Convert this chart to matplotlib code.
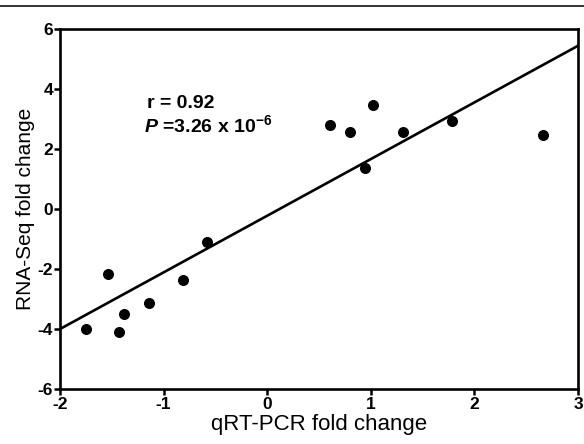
import matplotlib
matplotlib.use('Agg')
import matplotlib.pyplot as plt
from matplotlib.lines import Line2D
import numpy as np

plt.rcParams['font.family'] = 'Liberation Sans'
plt.rcParams['mathtext.fontset'] = 'custom'
plt.rcParams['mathtext.rm'] = 'Liberation Sans:bold'
plt.rcParams['mathtext.bf'] = 'Liberation Sans:bold'
plt.rcParams['mathtext.it'] = 'Liberation Sans:bold:italic'

# Datos
qpcr = [-1.75, -1.54, -1.43, -1.38, -1.14, -0.81, -0.58,
        0.61, 0.80, 0.94, 1.02, 1.31, 1.78, 2.66]
rnaseq = [-4.00, -2.17, -4.09, -3.51, -3.12, -2.38, -1.09,
          2.80, 2.59, 1.38, 3.46, 2.57, 2.93, 2.48]

# Recta de regresion
slope = 1.89
intercept = -0.22
x_ticks = [-2, -1, 0, 1, 2, 3]
y_ticks = [-6, -4, -2, 0, 2, 4, 6]

fig = plt.figure(figsize=(5.84, 4.44), dpi=100)
ax = fig.add_axes([0.1027, 0.1239, 0.8870, 0.8101])

line_x = np.array([-2, 3])
ax.plot(line_x, slope * line_x + intercept, color='black', linewidth=1.9, zorder=2)
ax.scatter(qpcr, rnaseq, s=48, color='black', zorder=3)

ax.set_xlim(-2, 3)
ax.set_ylim(-6, 6)
ax.set_xticks(x_ticks)
ax.set_yticks(y_ticks)
ax.set_xticklabels([str(t) for t in x_ticks], fontweight='bold', fontsize=12.5)
ax.set_yticklabels([str(t) for t in y_ticks], fontweight='bold', fontsize=12.5)
ax.tick_params(direction='out', length=4, width=1.8)
ax.tick_params(axis='x', pad=2)
ax.tick_params(axis='y', pad=1)

for s in ax.spines.values():
    s.set_linewidth(1.9)

ax.set_xlabel('qRT-PCR fold change', fontsize=16, labelpad=1)
ax.set_ylabel('RNA-Seq fold change', fontsize=15, labelpad=2)

ax.text(-1.16, 3.53, 'r = 0.92', fontsize=14, fontweight='bold', va='center')
ax.text(-1.19, 2.8, r'$\mathit{P}$ =3.26 x 10$^{-6}$', fontsize=14,
        fontweight='bold', va='center')

# linea superior de la figura
fig.add_artist(Line2D([0, 1], [0.986, 0.986], transform=fig.transFigure,
                      color='#333333', linewidth=1.4))

fig.savefig('out.png', dpi=100)
